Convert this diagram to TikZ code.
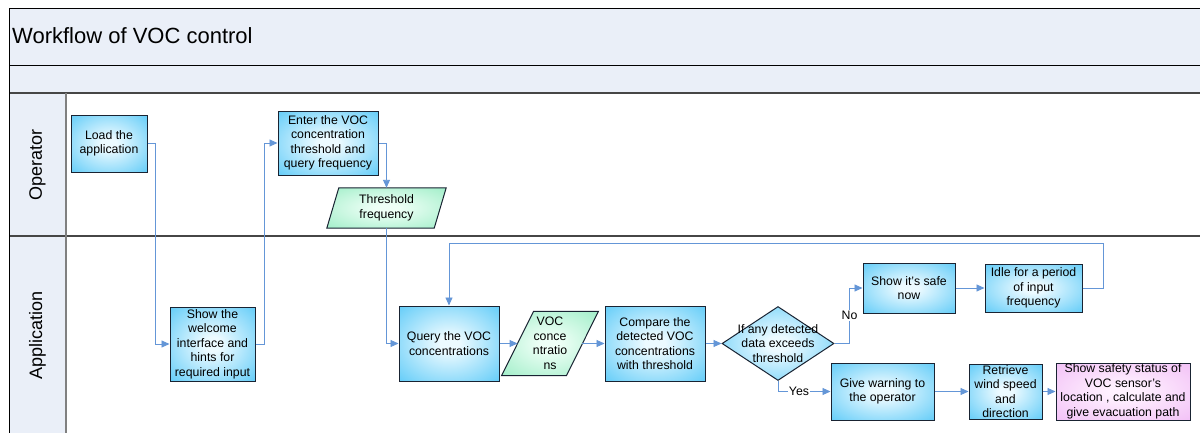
\documentclass[tikz,border=0pt]{standalone}
\usepackage{fontspec}
\setmainfont{Liberation Sans}
\usetikzlibrary{arrows.meta,shapes.geometric}

% palette
\definecolor{hdrfill}{RGB}{234,239,248}
\definecolor{lanegray}{RGB}{70,70,70}
\definecolor{flowline}{RGB}{100,150,215}
\definecolor{boxline}{RGB}{25,35,50}
\definecolor{bluecore}{RGB}{236,250,255}
\definecolor{blueedge}{RGB}{98,204,248}
\definecolor{greencore}{RGB}{238,255,246}
\definecolor{greenedge}{RGB}{160,238,200}
\definecolor{pinkcore}{RGB}{255,242,255}
\definecolor{pinkedge}{RGB}{242,192,246}

% glowing fills: light centre fading to a saturated rim
\pgfdeclareradialshading{blueglow}{\pgfpoint{0bp}{0bp}}{color(0bp)=(bluecore); color(5bp)=(bluecore); color(36bp)=(blueedge); color(50bp)=(blueedge)}
\pgfdeclareradialshading{greenglow}{\pgfpoint{0bp}{0bp}}{color(0bp)=(greencore); color(5bp)=(greencore); color(36bp)=(greenedge); color(50bp)=(greenedge)}
\pgfdeclareradialshading{pinkglow}{\pgfpoint{0bp}{0bp}}{color(0bp)=(pinkcore); color(5bp)=(pinkcore); color(36bp)=(pinkedge); color(50bp)=(pinkedge)}

\tikzset{
  boxtext/.style={font=\fontsize{12.3}{14.5}\selectfont, align=center, inner sep=0pt},
  proc/.style={boxtext, draw=boxline, line width=1pt, shade, shading=blueglow},
  pinkproc/.style={proc, shading=pinkglow},
  datatext/.style={boxtext},
  dataframe/.style={draw=boxline, line width=1pt, shading=greenglow},
  decframe/.style={diamond, draw=boxline, line width=1pt, shade, shading=blueglow, inner sep=0pt},
  flow/.style={flowline, line width=0.9pt, -{Triangle[length=8pt,width=7pt]}},
  flowlabel/.style={font=\fontsize{12.3}{14}\selectfont, text=black, fill=white, inner sep=1pt},
  lanelabel/.style={rotate=90, font=\fontsize{18}{20}\selectfont},
}

\begin{document}
\begin{tikzpicture}[x=1pt,y=-1pt]
\useasboundingbox (0,0) rectangle (1200,432);
\clip (0,0) rectangle (1200,432);

% ---- pool frame, header bands and lane labels ----
\fill[white] (0,0) rectangle (1200,432);
\fill[hdrfill] (9,8) rectangle (1202,93);
\fill[hdrfill] (9,93) rectangle (66,434);
\draw[black, line width=1pt] (9,8) -- (1202,8);
\draw[black, line width=1pt] (9,65) -- (1202,65);
\draw[lanegray, line width=1.6pt] (9,93) -- (1202,93);
\draw[lanegray, line width=1.6pt] (9,236) -- (1202,236);
\draw[black, line width=1pt] (9,8) -- (9,434);
\draw[gray, line width=1.3pt] (66,93) -- (66,434);

\node[anchor=west, font=\fontsize{22}{24}\selectfont, inner sep=0pt] (title) at (12,36) {Workflow of VOC control};
\node[lanelabel] (laneop) at (37.5,165) {Operator};
\node[lanelabel] (laneapp) at (37.5,335) {Application};

% ---- operator lane ----
\node[proc, minimum width=76pt, minimum height=57pt] (load) at (109,143.5) {Load the\\application};
\node[proc, minimum width=100pt, minimum height=64pt] (enter) at (328,143) {Enter the VOC\\concentration\\threshold and\\query frequency};
\node[datatext, minimum width=107pt, minimum height=40pt] (thresh) at (386.5,208) {};
\shade[dataframe] ([xshift=-6pt]thresh.south west) -- ([xshift=6pt]thresh.north west)
  -- ([xshift=6pt]thresh.north east) -- ([xshift=-6pt]thresh.south east) -- cycle;
\node[datatext] at (thresh.center) {Threshold\\frequency};

% ---- application lane ----
\node[proc, minimum width=85pt, minimum height=74pt] (welcome) at (212.5,344) {Show the\\welcome\\interface and\\hints for\\required input};
\node[proc, minimum width=100pt, minimum height=75pt] (query) at (449,343.5) {Query the VOC\\concentrations};
\node[datatext, minimum width=64.5pt, minimum height=64pt] (voc) at (550,343.5) {};
\shade[dataframe] ([xshift=-16pt]voc.south west) -- ([xshift=16pt]voc.north west)
  -- ([xshift=16pt]voc.north east) -- ([xshift=-16pt]voc.south east) -- cycle;
\node[datatext] at (voc.center) {VOC\\conce\\ntratio\\ns};
\node[proc, minimum width=100pt, minimum height=75pt] (compare) at (655,343.5) {Compare the\\detected VOC\\concentrations\\with threshold};
\node[decframe, minimum width=112pt, minimum height=74pt] (dec) at (778,343.5) {};
\node[boxtext] at (dec.center) {If any detected\\data exceeds\\threshold};
\node[proc, minimum width=92pt, minimum height=50pt] (safe) at (909,288) {Show it’s safe\\now};
\node[proc, minimum width=97pt, minimum height=48pt] (idle) at (1033.5,288) {Idle for a period\\of input\\frequency};
\node[proc, minimum width=103pt, minimum height=57pt] (warn) at (882.5,391.5) {Give warning to\\the operator};
\node[proc, minimum width=73pt, minimum height=55pt] (retr) at (1005.5,391.5) {Retrieve\\wind speed\\and\\direction};
\node[pinkproc, minimum width=134pt, minimum height=57pt] (status) at (1123,391.5) {Show safety status of\\VOC sensor’s\\location , calculate and\\give evacuation path};

% ---- connectors ----
\coordinate (looptop) at (1103,243);
\draw[flow] (load.east) -- ++(8,0) |- (welcome.west);
\draw[flow] (welcome.east) -- ++(9,0) |- (enter.west);
\draw[flow] (enter.east) -| (thresh.north);
\draw[flow] (thresh.south) |- (query.west);
\draw[flow] (query.east) -- (voc.west);
\draw[flow] (voc.east) -- (compare.west);
\draw[flow] (compare.east) -- (dec.west);
\draw[flow] (dec.east) -- ++(15,0) |- node[flowlabel, pos=0.25] {No} (safe.west);
\draw[flow] (safe.east) -- (idle.west);
\draw[flow] (idle.east) -| (looptop) -| (query.north);
\draw[flow] (dec.south) |- node[flowlabel, pos=0.7] {Yes} (warn.west);
\draw[flow] (warn.east) -- (retr.west);
\draw[flow] (retr.east) -- (status.west);
\end{tikzpicture}
\end{document}
